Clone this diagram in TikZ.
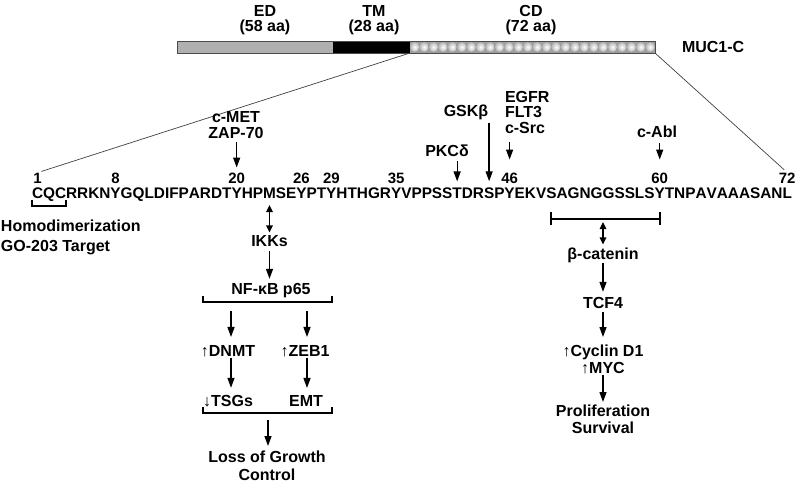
\documentclass[tikz,border=0pt]{standalone}
\usepackage{fontspec}
\setmainfont{Liberation Sans}
\usetikzlibrary{arrows.meta}
\begin{document}
\begin{tikzpicture}[x=1pt,y=-1pt,
  every node/.style={outer sep=0pt},
  lbl/.style={font=\fontsize{16}{16}\selectfont\bfseries, inner sep=0pt},
  mlbl/.style={lbl, align=center, anchor=north},
  res/.style={font=\fontsize{15.35}{16}\selectfont\bfseries, inner sep=0pt, anchor=base west},
  num/.style={font=\fontsize{15}{16}\selectfont\bfseries, inner sep=0pt, anchor=base},
  arr/.style={line width=1.3pt, -{Triangle[length=10pt,width=7pt]}},
  darr/.style={line width=1.3pt, {Triangle[length=7pt,width=6.5pt]}-{Triangle[length=7pt,width=6.5pt]}},
  brk/.style={line width=2pt, line join=miter},
  zoomline/.style={line width=0.7pt, black!75},
]
\useasboundingbox (0,0) rectangle (800,484);

% ---- MUC1-C bar ----
\fill[gray!62] (177,41) rectangle (333,53);
\fill[black] (333,41) rectangle (410,53);
\fill[gray!75] (410,41) rectangle (655,53);
\foreach \k in {0,...,25}
  \shade[inner color=white, outer color=gray!55] ({414.7+\k*9.42},47) ellipse (4.5 and 4.8);
\draw[line width=0.8pt, black!70] (177,41) rectangle (655,53);
\coordinate (tmcd) at (410,53);
\coordinate (cdend) at (655,53);

\node[mlbl, font=\fontsize{16}{15}\selectfont\bfseries] (ed) at (265,5.5) {ED\\(58 aa)};
\node[mlbl, font=\fontsize{16}{15}\selectfont\bfseries] (tm) at (374,5.5) {TM\\(28 aa)};
\node[mlbl, font=\fontsize{16}{15}\selectfont\bfseries] (cd) at (531,5.5) {CD\\(72 aa)};
\node[lbl, anchor=base west] (muc) at (682,53) {MUC1-C};

% ---- sequence ----
\node[res] (r0) at (31,198) {};
\foreach \a [count=\i, remember=\i as \j (initially 0)] in
  {C,Q,C,R,R,K,N,Y,G,Q,L,D,I,F,P,A,R,D,T,Y,H,P,M,S,E,Y,P,T,Y,H,T,H,G,R,Y,V,P,P,S,S,
   T,D,R,S,P,Y,E,K,V,S,A,G,N,G,G,S,S,L,S,Y,T,N,P,A,V,A,A,A,S,A,N,L}
  \node[res] (r\i) at (r\j.base east) {\a};

\coordinate (numrow) at (0,183);
\foreach \k in {1,8,20,26,29,35,46,60,72}
  \node[num] (n\k) at (r\k.base |- numrow) {\k};

\draw[zoomline, shorten >=4pt] (tmcd) -- (n1.north);
\draw[zoomline, shorten >=4pt] (cdend) -- (n72.north);

% ---- kinases ----
\node[mlbl, font=\fontsize{16}{16}\selectfont\bfseries] (cmet) at (236,111) {c-MET\\ZAP-70};
\draw[arr, shorten <=4pt, shorten >=5pt] (cmet.south -| n20) -- (n20.north);

\node[lbl, anchor=base] (pkc) at (447,156) {PKCδ};
\draw[arr, shorten <=5pt, shorten >=6pt] (pkc.south -| r41) -- (r41.north);

\node[lbl, anchor=base] (gsk) at (466,117) {GSKβ};
\draw[arr, shorten <=3pt, shorten >=6pt] (gsk.south -| r44) -- (r44.north);

\node[lbl, align=left, anchor=north west, font=\fontsize{16}{15.5}\selectfont\bfseries] (egfr) at (505,91) {EGFR\\FLT3\\c-Src};
\draw[arr, shorten <=9pt, shorten >=13pt] (egfr.south -| n46) -- (n46.north);

\node[lbl, anchor=base] (cabl) at (657,137) {c-Abl};
\draw[arr, shorten <=6pt, shorten >=13pt] (cabl.south -| n60) -- (n60.north);

% ---- CQC bracket ----
\coordinate (cqcT) at (0,200);
\coordinate (cqcB) at (0,206);
\draw[brk, line width=1.7pt] (r1.west |- cqcT) -- (r1.west |- cqcB) -- (r3.east |- cqcB) -- (r3.east |- cqcT);
\node[lbl, align=left, anchor=north west, font=\fontsize{16}{20}\selectfont\bfseries] (homo) at (1,219.5) {Homodimerization\\GO-203 Target};

% ---- NF-kB pathway ----
\path (r23.base) ++(0,48) node[lbl, anchor=base] (ikks) {IKKs};
\draw[darr, shorten <=7pt, shorten >=2.5pt] (r23.south) -- (ikks.north);
\node[lbl, anchor=base] (nfkb) at (271,294) {NF-κB p65};
\draw[arr, shorten <=5pt, shorten >=4pt] (ikks.south) -- (ikks.south |- nfkb.north);

\coordinate (nfbL) at (203,302);
\coordinate (nfbR) at (332,302);
\draw[brk] ([yshift=6pt]nfbL) -- (nfbL) -- (nfbR) -- ([yshift=6pt]nfbR);

\node[lbl, anchor=base] (dnmt) at (228,356) {↑DNMT};
\node[lbl, anchor=base] (zeb) at (305,356) {↑ZEB1};
\draw[arr, shorten <=9pt, shorten >=8pt] ([xshift=3pt]dnmt.north |- nfbL) -- ([xshift=3pt]dnmt.north);
\draw[arr, shorten <=9pt, shorten >=8pt] ([xshift=2pt]zeb.north |- nfbL) -- ([xshift=2pt]zeb.north);

\node[lbl, anchor=base] (tsg) at (228,406) {↓TSGs};
\node[lbl, anchor=base] (emt) at (306,406) {EMT};
\draw[arr, shorten <=2pt, shorten >=7pt] ([xshift=3pt]dnmt.south) -- ([xshift=3pt]dnmt.south |- tsg.north);
\draw[arr, shorten <=2pt, shorten >=7pt] ([xshift=2pt]zeb.south) -- ([xshift=2pt]zeb.south |- emt.north);

\coordinate (lbL) at (203,413);
\coordinate (lbR) at (332,413);
\coordinate (lbM) at (268,413);
\draw[brk] ([yshift=6pt]lbL) -- (lbL) -- (lbR) -- ([yshift=6pt]lbR);

\node[mlbl, font=\fontsize{16}{18}\selectfont\bfseries] (loss) at (267,451) {Loss of Growth\\Control};
\draw[arr, shorten <=7pt, shorten >=5pt] (lbM) -- (lbM |- loss.north);

% ---- beta-catenin pathway ----
\coordinate (bcrow) at (0,219);
\coordinate (bcL) at (r50 |- bcrow);
\coordinate (bcR) at (r60 |- bcrow);
\coordinate (bcM) at (603,219);
\draw[brk] (bcL) -- (bcR);
\draw[brk] ([yshift=7pt]bcL) -- ([yshift=-6pt]bcL);
\draw[brk] ([yshift=7pt]bcR) -- ([yshift=-6pt]bcR);

\node[lbl, anchor=base] (bcat) at (603,259) {β-catenin};
\draw[darr, shorten <=3pt, shorten >=3pt] (bcM) -- (bcM |- bcat.north);
\node[lbl, anchor=base] (tcf) at (603,308) {TCF4};
\draw[arr, shorten <=1pt, shorten >=5pt] (bcat.south) -- (tcf.north);
\node[mlbl, font=\fontsize{16}{17}\selectfont\bfseries] (cyc) at (603,345) {↑Cyclin D1\\↑MYC};
\draw[arr, shorten <=4pt, shorten >=8pt] (tcf.south) -- (cyc.north);
\node[mlbl, font=\fontsize{16}{17}\selectfont\bfseries] (prolif) at (603,404.5) {Proliferation\\Survival};
\draw[arr, shorten <=1pt, shorten >=2.5pt] (cyc.south) -- (prolif.north);
\end{tikzpicture}
\end{document}
